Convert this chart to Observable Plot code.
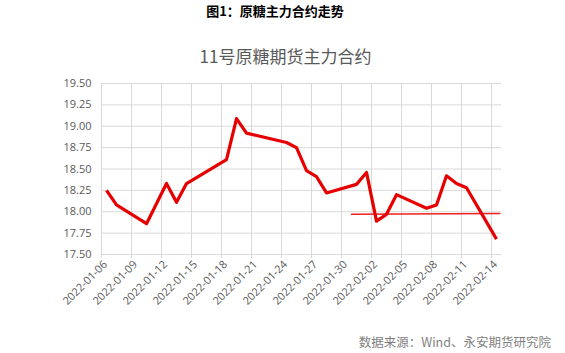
<!DOCTYPE html>
<html>
<head>
<meta charset="utf-8">
<script src="https://cdn.jsdelivr.net/npm/d3@7"></script>
<script src="https://cdn.jsdelivr.net/npm/@observablehq/plot@0.6"></script>
<style>
  html, body { margin: 0; padding: 0; background: #ffffff; }
  #wrap { position: relative; width: 565px; height: 353px; overflow: hidden; font-family: "Open Sans", "Noto Sans CJK SC", sans-serif; }
  #head { position: absolute; top: 1px; left: 0; width: 550px; text-align: center; font-size: 13px; font-weight: bold; color: #000; font-family: "Noto Sans CJK SC", sans-serif; }
  #title { position: absolute; top: 43px; left: 0; width: 571px; text-align: center; font-size: 17px; color: #595959; font-family: "Noto Sans CJK SC", sans-serif; }
  #caption { position: absolute; top: 332px; right: 14px; font-size: 12.5px; color: #7f7f7f; font-family: "Noto Sans CJK SC", sans-serif; }
  #chart { position: absolute; top: 0; left: 0; }
</style>
</head>
<body>
<div id="wrap">
  <div id="chart"></div>
  <div id="head">图1：原糖主力合约走势</div>
  <div id="title">11号原糖期货主力合约</div>
  <div id="caption">数据来源：Wind、永安期货研究院</div>
</div>
<script>
// Main contract series (trading dates and prices)
const dates = ["2022-01-06","2022-01-07","2022-01-10","2022-01-12","2022-01-13","2022-01-14","2022-01-18","2022-01-19","2022-01-20","2022-01-24","2022-01-25","2022-01-26","2022-01-27","2022-01-28","2022-01-31","2022-02-01","2022-02-02","2022-02-03","2022-02-04","2022-02-07","2022-02-08","2022-02-09","2022-02-10","2022-02-11","2022-02-14"];
const prices = [18.25,18.08,17.86,18.33,18.11,18.33,18.61,19.09,18.92,18.81,18.75,18.48,18.41,18.22,18.32,18.46,17.89,17.97,18.20,18.04,18.08,18.42,18.33,18.28,17.68];

// Thin reference line
const refDates = ["2022-01-31T00:00Z","2022-02-14T20:00Z"];
const refValues = [17.97, 17.98];

// Axis ticks
const xTickLabels = ["2022-01-06","2022-01-09","2022-01-12","2022-01-15","2022-01-18","2022-01-21","2022-01-24","2022-01-27","2022-01-30","2022-02-02","2022-02-05","2022-02-08","2022-02-11","2022-02-14"];
const yTicks = [17.5,17.75,18.0,18.25,18.5,18.75,19.0,19.25,19.5];
const xDomain = ["2022-01-06","2022-02-15"];
const yDomain = [17.5, 19.5];

const HALF_DAY = 12 * 3600 * 1000;
const mainData = dates.map((d, i) => ({date: new Date(new Date(d).getTime() + HALF_DAY), value: prices[i]}));
const refData = refDates.map((d, i) => ({date: new Date(d), value: refValues[i]}));
const xTicks = xTickLabels.map(d => new Date(d));

const chart = Plot.plot({
  width: 565,
  height: 353,
  marginTop: 83,
  marginBottom: 99,
  marginLeft: 101,
  marginRight: 64,
  style: {background: "transparent", fontFamily: "'Open Sans', 'Noto Sans CJK SC', sans-serif"},
  x: {type: "utc", domain: xDomain.map(d => new Date(d))},
  y: {domain: yDomain},
  marks: [
    Plot.gridX(xTicks, {stroke: "#d9d9d9", strokeOpacity: 1, strokeWidth: 1}),
    Plot.gridY(yTicks, {stroke: "#d9d9d9", strokeOpacity: 1, strokeWidth: 1}),
    Plot.axisX(xTicks, {
      tickFormat: () => "",
      tickSize: 4,
      stroke: "#d9d9d9",
      label: null
    }),
    Plot.axisX(xTicks, {
      tickFormat: d3.utcFormat("%Y-%m-%d"),
      tickRotate: -45,
      tickSize: 0,
      tickPadding: 8,
      dx: 4,
      dy: 0,
      fill: "#595959",
      fontSize: 11,
      label: null
    }),
    Plot.axisY(yTicks, {
      tickFormat: d3.format(".2f"),
      tickSize: 0,
      tickPadding: 10,
      fill: "#595959",
      fontSize: 11,
      label: null
    }),
    Plot.line(refData, {x: "date", y: "value", stroke: "#f02020", strokeWidth: 1.5}),
    Plot.line(mainData, {x: "date", y: "value", stroke: "#e60000", strokeWidth: 3.2, strokeLinejoin: "round", strokeLinecap: "butt"})
  ]
});
document.getElementById("chart").appendChild(chart);
</script>
</body>
</html>
